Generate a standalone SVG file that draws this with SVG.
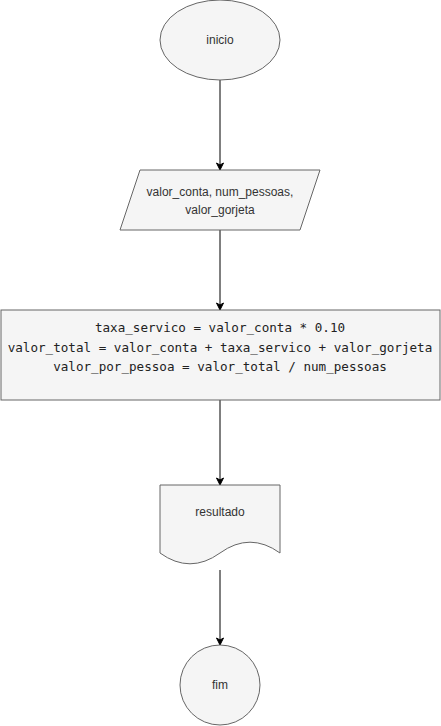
<svg xmlns="http://www.w3.org/2000/svg" width="441" height="726" viewBox="0 0 441 726">
<defs>
<marker id="arr" markerWidth="10" markerHeight="10" refX="8" refY="5" orient="auto" markerUnits="userSpaceOnUse">
<path d="M1,1.5 L8,5 L1,8.5 L3,5 Z" fill="#000" stroke="#000" stroke-width="1"/>
</marker>
</defs>
<style>
.s{fill:#f5f5f5;stroke:#666666;stroke-width:1}
.t{font-family:"Liberation Sans",Arial,sans-serif;font-size:12px;fill:#333333;text-anchor:middle}
.m{font-family:"DejaVu Sans Mono","Liberation Mono",monospace;font-size:12.6px;fill:#222222;text-anchor:middle}
.c{stroke:#000;stroke-width:1;fill:none;marker-end:url(#arr)}
</style>
<rect width="441" height="726" fill="#ffffff"/>
<g id="connectors">
<path class="c" d="M220,80 L220,170"/>
<path class="c" d="M220,230 L220,310"/>
<path class="c" d="M220,400 L220,485"/>
<path class="c" d="M220,570 L220,645"/>
</g>
<g id="inicio">
<ellipse class="s" cx="220" cy="40" rx="60" ry="40"/>
<text class="t" x="220" y="44">inicio</text>
</g>
<g id="entrada">
<path class="s" d="M140,170 L320,170 L300,230 L120,230 Z"/>
<text class="t" x="220" y="196">valor_conta, num_pessoas,</text>
<text class="t" x="220" y="214">valor_gorjeta</text>
</g>
<g id="processo">
<rect class="s" x="1" y="310" width="439" height="90"/>
<text class="m" x="220" y="332">taxa_servico = valor_conta * 0.10</text>
<text class="m" x="220" y="352">valor_total = valor_conta + taxa_servico + valor_gorjeta</text>
<text class="m" x="220" y="371">valor_por_pessoa = valor_total / num_pessoas</text>
</g>
<g id="resultado">
<path class="s" d="M160,485 L280,485 L280,553 Q250,531.4 220,553 Q190,574.6 160,553 Z"/>
<text class="t" x="220" y="516">resultado</text>
</g>
<g id="fim">
<circle class="s" cx="220" cy="685" r="40"/>
<text class="t" x="220" y="689">fim</text>
</g>
</svg>
